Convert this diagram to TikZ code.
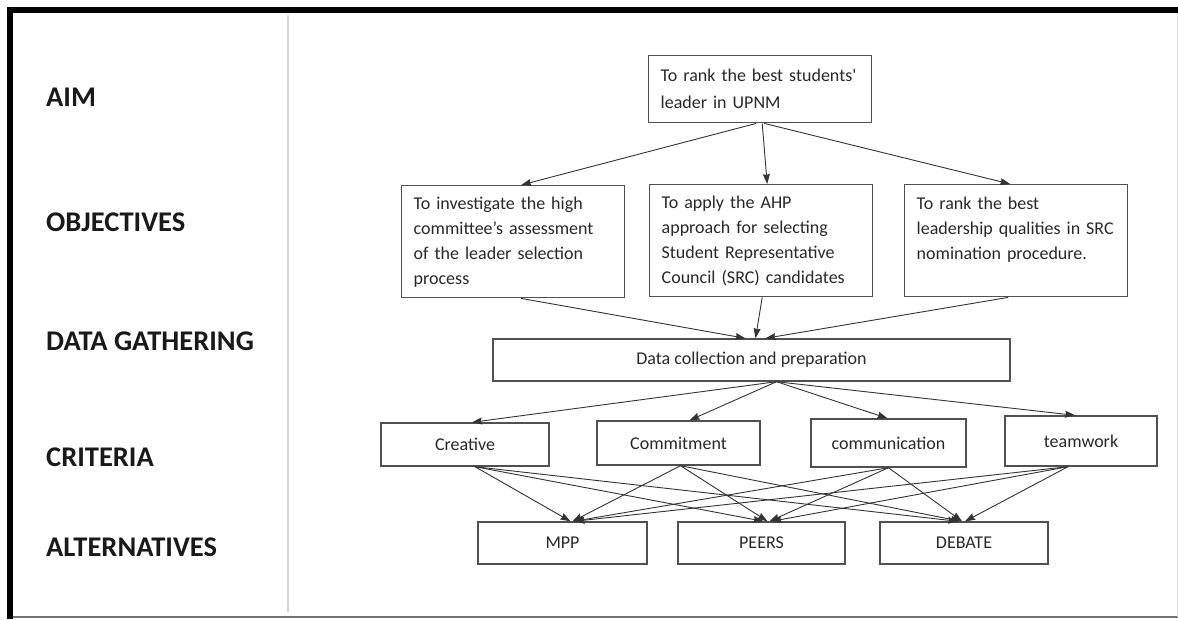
\documentclass[tikz,border=0pt]{standalone}
\usepackage{fontspec}
\setmainfont{Carlito}
\usetikzlibrary{arrows, arrows.meta, positioning}
\definecolor{boxgray}{RGB}{80,80,80}
\definecolor{txtgray}{RGB}{40,40,40}
\definecolor{sepgray}{RGB}{215,215,215}
\tikzstyle{rowlabel} = [anchor=west, inner sep=0pt, text=black!90, font=\fontsize{28.5}{32}\selectfont\bfseries]
\tikzstyle{aimbox} = [rectangle, anchor=north west, draw=boxgray, line width=1.4pt, text=txtgray, align=left, inner xsep=12pt, text width=199pt, minimum height=67pt, font=\fontsize{18}{27}\selectfont]
\tikzstyle{objbox} = [aimbox, minimum height=112pt, font=\fontsize{18}{25}\selectfont]
\tikzstyle{critbox} = [rectangle, draw=boxgray, line width=1.4pt, text=txtgray, text centered, inner sep=0pt, minimum height=43pt, font=\fontsize{18}{22}\selectfont]
\tikzstyle{arrow} = [draw=black!80, line width=0.9pt, -{Stealth[length=10pt, width=7pt, inset=1pt]}]

\begin{document}
\begin{tikzpicture}[x=1pt, y=-1pt]
   \useasboundingbox (0,0) rectangle (1178,619);
   % frame and separator
   \draw [line width=6pt] (10,619) -- (10,10) -- (1178,10);
   \draw [black!55, line width=1.2pt] (13,617) -- (1178,617);
   \draw [black!12, line width=1pt] (1177,13) -- (1177,617);
   \draw [sepgray, line width=1.5pt] (288,15) -- (288,612);

   % row labels
   \node (laim) [rowlabel] at (46,97) {AIM};
   \node (lobj) [rowlabel] at (46,222) {OBJECTIVES};
   \node (ldata) [rowlabel] at (46,341) {DATA GATHERING};
   \node (lcrit) [rowlabel] at (46,457) {CRITERIA};
   \node (lalt) [rowlabel] at (46,547) {ALTERNATIVES};

   % aim and objectives
   \node (aim) [aimbox] at (648,55) {To rank the best students\textquotesingle\\leader in UPNM};
   \node (obj1) [objbox] at (401,185) {To investigate the high\\committee’s assessment\\of the leader selection\\process};
   \node (obj2) [objbox] at (649,184) {To apply the AHP\\approach for selecting\\Student Representative\\Council (SRC) candidates};
   \node (obj3) [objbox] at (904,184) {To rank the best\\leadership qualities in SRC\\nomination procedure.\\~};
   \draw [arrow] ([xshift=-4pt]aim.south) -- ([xshift=8pt]obj1.north);
   \draw [arrow] ([xshift=2pt]aim.south) -- ([xshift=6pt]obj2.north);
   \draw [arrow] ([xshift=4pt]aim.south) -- ([xshift=-6pt]obj3.north);

   % data gathering
   \node (data) [critbox, minimum width=517pt, minimum height=42pt] at (751.5,360) {Data collection and preparation};
   \draw [arrow] ([xshift=8pt]obj1.south) -- ([xshift=-6pt]data.north);
   \draw [arrow] ([xshift=1pt]obj2.south) -- ([xshift=4pt]data.north);
   \draw [arrow] ([xshift=-8pt]obj3.south) -- ([xshift=14pt]data.north);

   % criteria
   \node (cre) [critbox, minimum width=168pt] at (465,444.5) {Creative};
   \node (com) [critbox, minimum width=163pt, minimum height=44pt] at (678.5,443) {Commitment};
   \node (cmn) [critbox, minimum width=155pt, minimum height=48pt] at (888.5,443) {communication};
   \node (tea) [critbox, minimum width=152pt, minimum height=50pt] at (1081,441) {teamwork};
   \draw [arrow] ([xshift=25pt]data.south) -- ([xshift=7pt]cre.north);
   \draw [arrow] ([xshift=25pt]data.south) -- ([xshift=11pt]com.north);
   \draw [arrow] ([xshift=25pt]data.south) -- ([xshift=-1pt]cmn.north);
   \draw [arrow] ([xshift=25pt]data.south) -- ([xshift=-6pt]tea.north);

   % alternatives
   \node (mpp) [critbox, minimum width=169pt, minimum height=42pt] at (562.5,543) {MPP};
   \node (peers) [critbox, minimum width=167pt, minimum height=42pt] at (761.5,543) {PEERS};
   \node (debate) [critbox, minimum width=168pt, minimum height=42pt] at (964,543) {DEBATE};
   \draw [arrow] ([xshift=10pt]cre.south) -- ([xshift=8pt]mpp.north);
   \draw [arrow] ([xshift=10pt]cre.south) -- ([xshift=2pt]peers.north);
   \draw [arrow] ([xshift=10pt]cre.south) -- ([xshift=-6pt]debate.north);
   \draw [arrow] ([xshift=2pt]com.south) -- ([xshift=10pt]mpp.north);
   \draw [arrow] ([xshift=2pt]com.south) -- ([xshift=6pt]peers.north);
   \draw [arrow] ([xshift=2pt]com.south) -- ([xshift=-3pt]debate.north);
   \draw [arrow] (cmn.south) -- ([xshift=11pt]mpp.north);
   \draw [arrow] (cmn.south) -- ([xshift=8pt]peers.north);
   \draw [arrow] (cmn.south) -- ([xshift=-2pt]debate.north);
   \draw [arrow] ([xshift=-13pt]tea.south) -- ([xshift=12pt]mpp.north);
   \draw [arrow] ([xshift=-13pt]tea.south) -- ([xshift=10pt]peers.north);
   \draw [arrow] ([xshift=-13pt]tea.south) -- ([xshift=1pt]debate.north);
\end{tikzpicture}
\end{document}
